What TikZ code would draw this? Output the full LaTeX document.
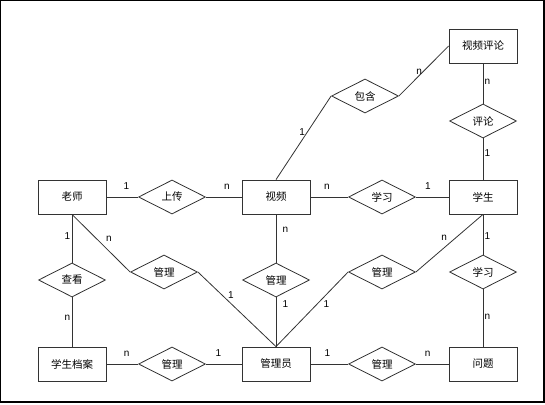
\documentclass[tikz,border=0pt]{standalone}
\usepackage{fontspec}
\setmainfont{Liberation Sans}
\newfontfamily\cjk{Noto Sans CJK SC}
\usetikzlibrary{shapes.geometric}

\begin{document}
\begin{tikzpicture}[x=1pt, y=-1pt, line width=0.8pt, draw=black!80,
  ent/.style={draw=black!80, minimum width=68pt, minimum height=34pt, inner sep=0pt, font=\cjk\fontsize{10.5}{12}\selectfont},
  rel/.style={draw=black!80, diamond, aspect=2, minimum width=67pt, minimum height=34pt, inner sep=0pt, font=\cjk\fontsize{10.5}{12}\selectfont},
  lb/.style={inner sep=1pt, text height=7.2pt, text depth=0pt, font=\fontsize{10}{12}\selectfont}]
\useasboundingbox (0,0) rectangle (545,404);
\draw[line width=1.2pt, black] (0.6,0.6) rectangle (544,402);

\node[ent] (ls) at (72,197) {老师};
\node[ent] (sp) at (276,197) {视频};
\node[ent] (xs) at (483,197) {学生};
\node[ent] (pl) at (483,46) {视频评论};
\node[ent] (da) at (72,364) {学生档案};
\node[ent] (gly) at (276,364) {管理员};
\node[ent] (wt) at (483,364) {问题};

\node[rel] (sc) at (172,197) {上传};
\node[rel] (xx) at (382,197) {学习};
\node[rel] (bh) at (365,96) {包含};
\node[rel] (plr) at (483,121) {评论};
\node[rel] (ck) at (72,280) {查看};
\node[rel] (gl1) at (164,272) {管理};
\node[rel] (gl2) at (276,280) {管理};
\node[rel] (gl3) at (382,272) {管理};
\node[rel] (xx2) at (483,272) {学习};
\node[rel] (gl4) at (172,364) {管理};
\node[rel] (gl5) at (382,364) {管理};

 \draw (ls)--(sc)node[lb, pos=0.63, above=6.4pt]{1};
 \draw (sc)--(sp)node[lb, pos=0.59, above=6.4pt]{n};
 \draw (sp)--(xx)node[lb, pos=0.44, above=6.4pt]{n};
 \draw (xx)--(xs)node[lb, pos=0.37, above=6.4pt]{1};
  \draw (sp.north)--(bh.west)node[lb, pos=0.57, left=1pt]{1};
  \draw (bh.east)--(pl.west)node[lb, pos=0.5, left=0.5pt]{n};
  \draw (pl.south)--(plr.north)node[lb, pos=0.44, right=0.2pt]{n};
  \draw (plr.south)--(xs.north)node[lb, pos=0.36, right=0.2pt]{1};
 \draw (ls.south)--(ck.north)node[lb, pos=0.45, left=0.5pt]{1};
 \draw (ck.south)--(da.north)node[lb, pos=0.39, left=0.5pt]{n};
 \draw (ls.south)--(gl1.west)node[lb, pos=0.53, above right=2pt]{n};
 \draw (gl1.east)--(gly.north)node[lb, pos=0.37, above right=0pt]{1};
  \draw (sp.south)--(gl2.north)node[lb, pos=0.31, right=5.2pt]{n};
  \draw (gl2.south)--(gly.north)node[lb, pos=0.14, right=5.2pt]{1};
  \draw (xs.south)--(gl3.east)node[lb, pos=0.5, above left=1pt]{n};
  \draw (gl3.west)--(gly.north)node[lb, pos=0.36, below right=0pt]{1};
 \draw (xs.south)--(xx2.north)node[lb, pos=0.54, right=0.2pt]{1};
 \draw (xx2.south)--(wt.north)node[lb, pos=0.46, right=0.2pt]{n};
  \draw (da)--(gl4)node[lb, pos=0.64, above=6.4pt]{n};
  \draw (gl4)--(gly)node[lb, pos=0.35, above=6.4pt]{1};
  \draw (gly)--(gl5)node[lb, pos=0.45, above=6.4pt]{1};
  \draw (gl5)--(wt)node[lb, pos=0.36, above=6.4pt]{n};
\end{tikzpicture}
\end{document}
